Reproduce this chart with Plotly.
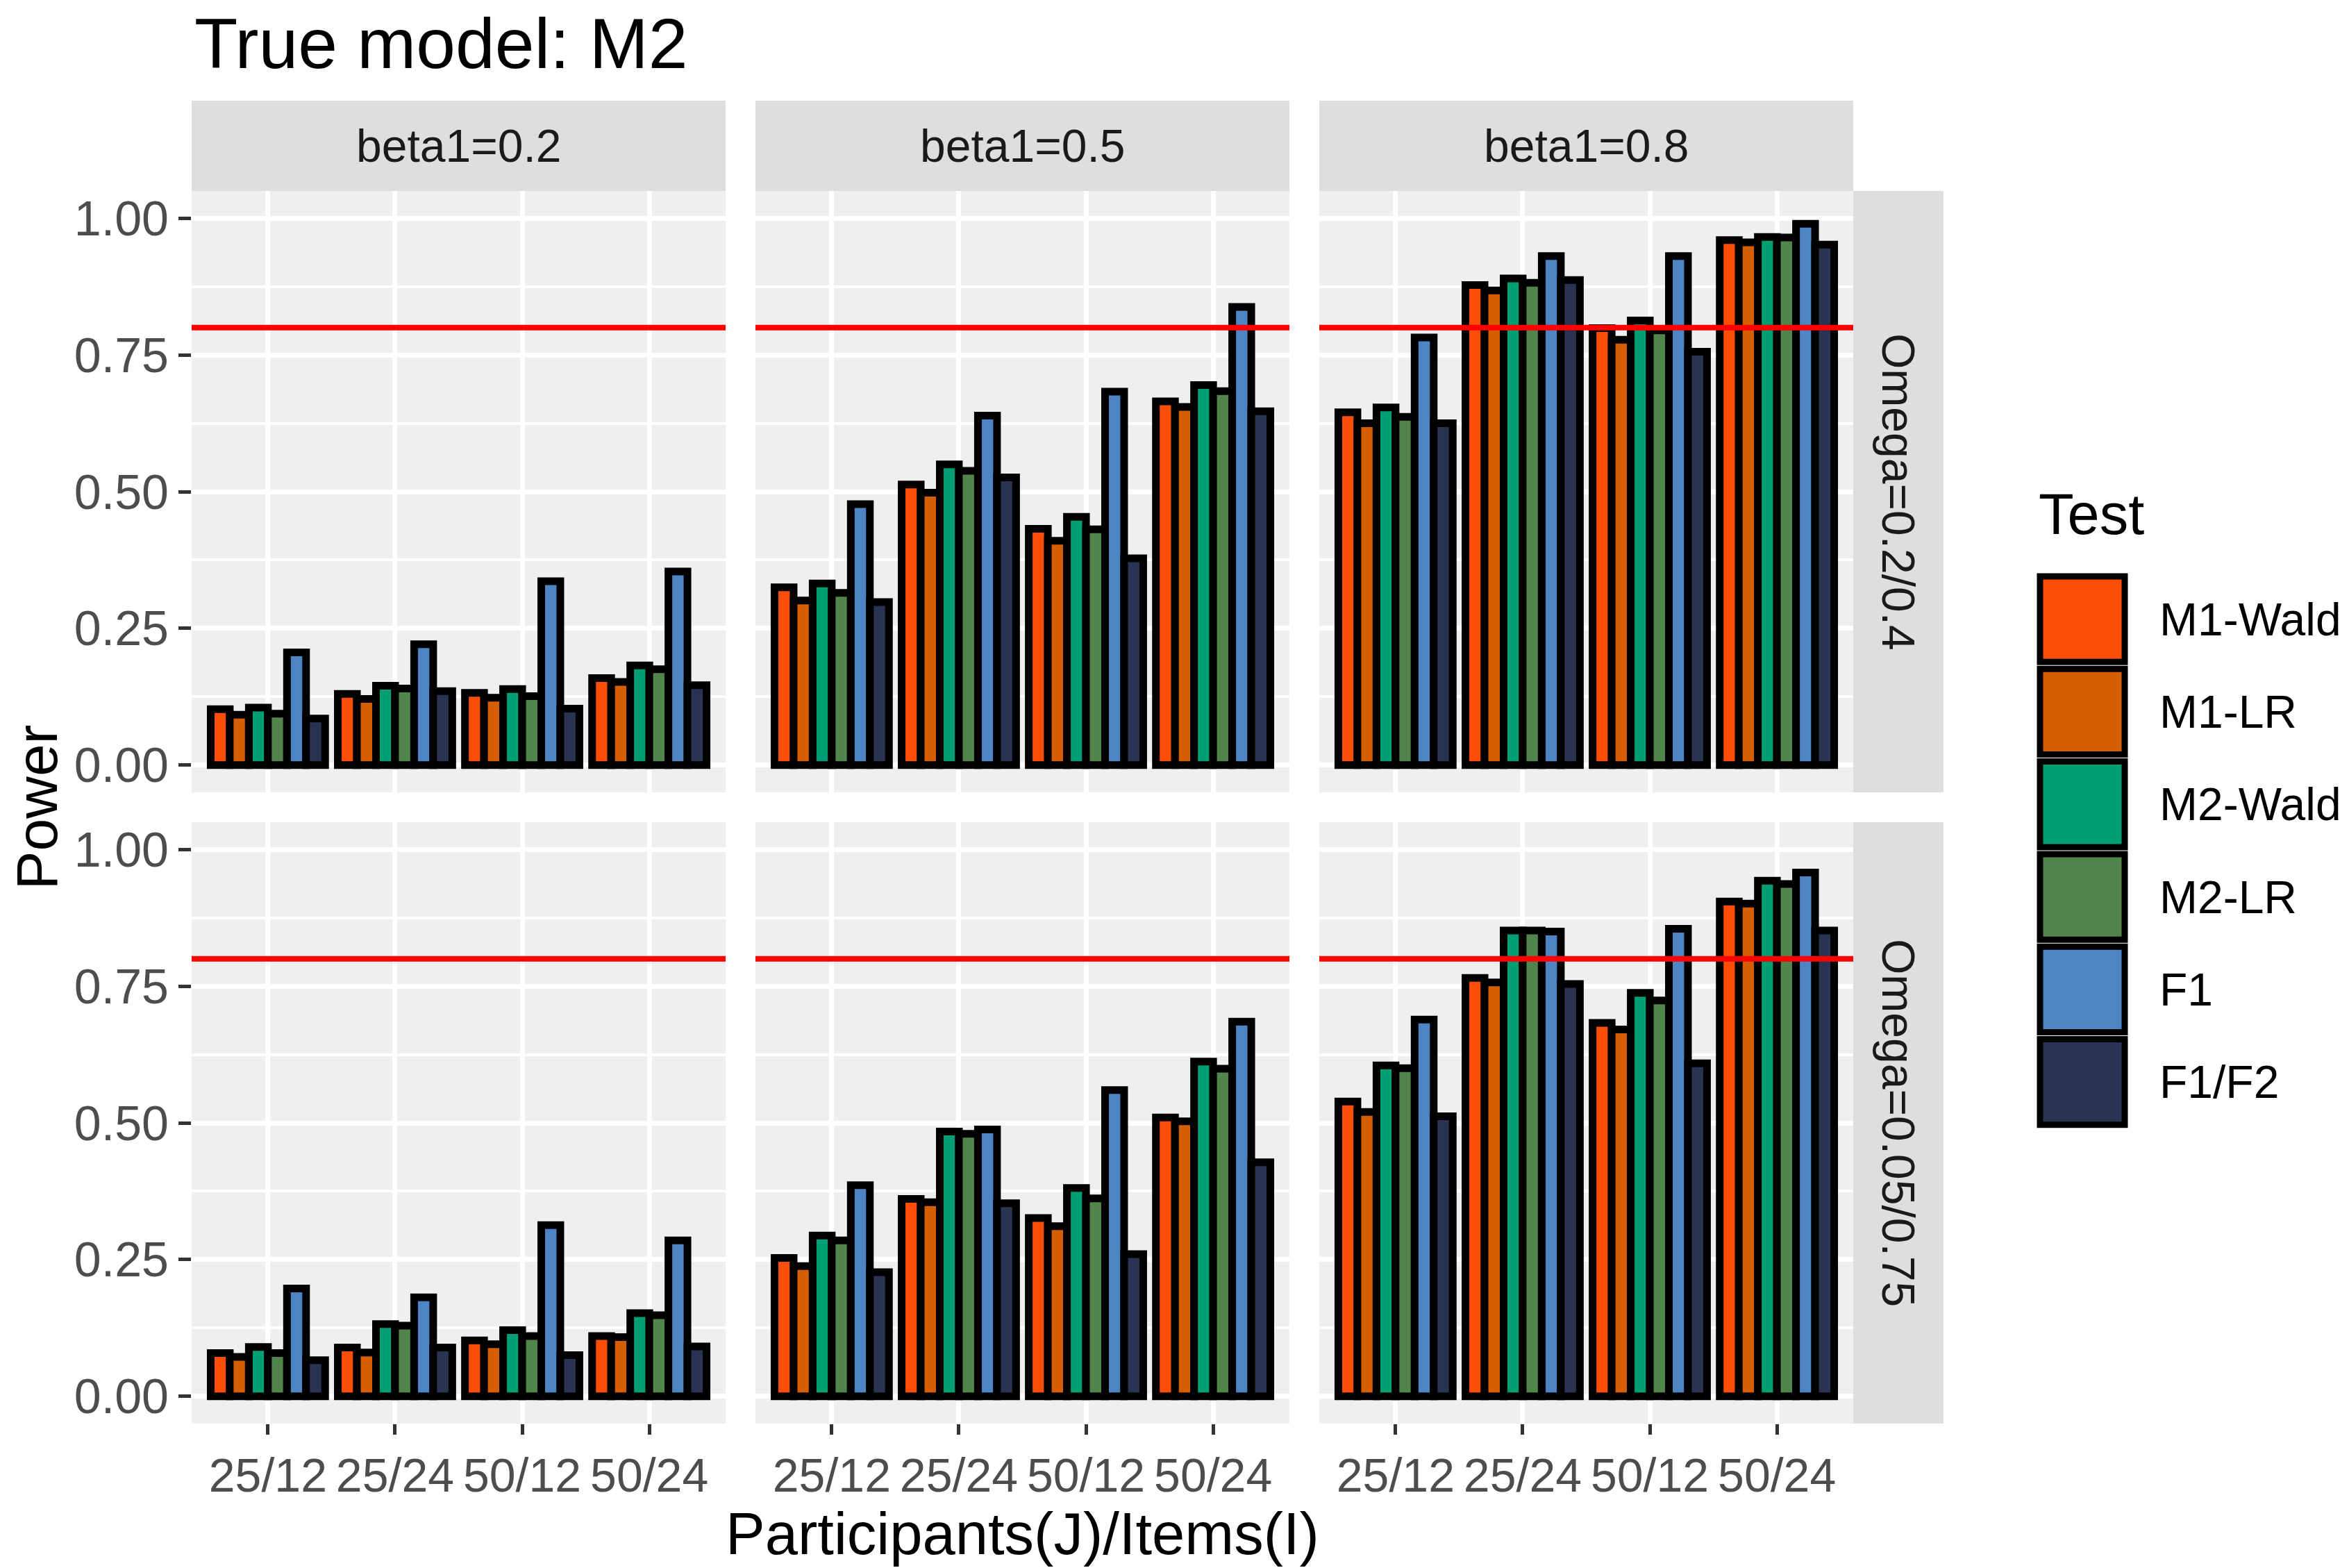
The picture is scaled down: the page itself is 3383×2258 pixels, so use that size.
import plotly.graph_objects as go
from plotly.subplots import make_subplots

W, H = 3383, 2258

designs = ["25/12", "25/24", "50/12", "50/24"]
tests = ["M1-Wald", "M1-LR", "M2-Wald", "M2-LR", "F1", "F1/F2"]
test_colors = ["#FC4E07", "#D55E00", "#009E73", "#52854C", "#4E84C4", "#293352"]
beta_labels = ["beta1=0.2", "beta1=0.5", "beta1=0.8"]
omega_labels = ["Omega=0.2/0.4", "Omega=0.05/0.75"]
power_target = 0.8

# power, one row per test (same order as tests), one value per design
omega1_beta02 = [
    [0.102, 0.130, 0.132, 0.159],
    [0.092, 0.121, 0.123, 0.152],
    [0.105, 0.145, 0.139, 0.182],
    [0.094, 0.140, 0.126, 0.175],
    [0.206, 0.221, 0.336, 0.354],
    [0.085, 0.135, 0.103, 0.146],
]
omega1_beta05 = [
    [0.325, 0.513, 0.432, 0.665],
    [0.301, 0.498, 0.410, 0.655],
    [0.332, 0.550, 0.454, 0.695],
    [0.315, 0.538, 0.431, 0.684],
    [0.477, 0.639, 0.683, 0.838],
    [0.298, 0.526, 0.378, 0.647],
]
omega1_beta08 = [
    [0.645, 0.878, 0.799, 0.960],
    [0.625, 0.868, 0.778, 0.956],
    [0.654, 0.890, 0.813, 0.966],
    [0.637, 0.882, 0.795, 0.965],
    [0.782, 0.931, 0.931, 0.990],
    [0.625, 0.887, 0.756, 0.952],
]
omega2_beta02 = [
    [0.079, 0.089, 0.102, 0.110],
    [0.072, 0.080, 0.095, 0.108],
    [0.090, 0.132, 0.121, 0.152],
    [0.079, 0.129, 0.110, 0.148],
    [0.197, 0.181, 0.313, 0.285],
    [0.066, 0.089, 0.075, 0.091],
]
omega2_beta05 = [
    [0.253, 0.361, 0.326, 0.510],
    [0.238, 0.355, 0.311, 0.503],
    [0.294, 0.484, 0.381, 0.612],
    [0.285, 0.480, 0.362, 0.599],
    [0.386, 0.488, 0.560, 0.685],
    [0.227, 0.353, 0.260, 0.428],
]
omega2_beta08 = [
    [0.539, 0.765, 0.683, 0.905],
    [0.520, 0.757, 0.671, 0.901],
    [0.605, 0.852, 0.738, 0.943],
    [0.600, 0.852, 0.724, 0.937],
    [0.689, 0.850, 0.855, 0.958],
    [0.512, 0.754, 0.609, 0.852],
]

panels = [
    [omega1_beta02, omega1_beta05, omega1_beta08],
    [omega2_beta02, omega2_beta05, omega2_beta08],
]

FONT = "Liberation Sans"


def fx(px):
    return px / W


def fy(px):
    return 1 - px / H


# panel geometry in pixels
col_left = [276, 1088, 1900]
col_w = 769
row_top = [275, 1184]
row_h = 866
strip = 130

fig = make_subplots(rows=2, cols=3)

for r in range(2):
    for c in range(3):
        vals = panels[r][c]
        for t, name in enumerate(tests):
            fig.add_trace(
                go.Bar(
                    x=designs,
                    y=vals[t],
                    name=name,
                    marker=dict(color=test_colors[t], line=dict(color="black", width=11)),
                    showlegend=False,
                ),
                row=r + 1,
                col=c + 1,
            )

shapes = []
annotations = []

for r in range(2):
    for c in range(3):
        n = r * 3 + c + 1
        sfx = "" if n == 1 else str(n)
        fig.layout["xaxis" + sfx].update(
            domain=[fx(col_left[c]), fx(col_left[c] + col_w)],
            type="category",
            range=[-0.6, 3.6],
            showgrid=True,
            gridcolor="white",
            gridwidth=7,
            zeroline=False,
            showline=False,
            ticks="outside" if r == 1 else "",
            ticklen=15,
            tickwidth=5,
            tickcolor="#333333",
            showticklabels=(r == 1),
            tickfont=dict(family=FONT, size=68, color="#4D4D4D"),
        )
        fig.layout["yaxis" + sfx].update(
            domain=[fy(row_top[r] + row_h), fy(row_top[r])],
            range=[-0.05, 1.05],
            tick0=0,
            dtick=0.25,
            tickformat=".2f",
            showgrid=True,
            gridcolor="white",
            gridwidth=7,
            minor=dict(tick0=0, dtick=0.125, showgrid=True, gridcolor="white", gridwidth=3.5, ticks=""),
            zeroline=False,
            showline=False,
            ticks="outside" if c == 0 else "",
            ticklen=18,
            tickwidth=5,
            tickcolor="#333333",
            showticklabels=(c == 0),
            tickfont=dict(family=FONT, size=70, color="#4D4D4D"),
        )
        # 80% power reference line
        shapes.append(dict(
            type="line", xref=f"x{sfx} domain", yref=f"y{sfx}",
            x0=0, x1=1, y0=power_target, y1=power_target,
            line=dict(color="#FF0000", width=8),
        ))

# top strips
for c in range(3):
    shapes.append(dict(
        type="rect", xref="paper", yref="paper",
        x0=fx(col_left[c]), x1=fx(col_left[c] + col_w),
        y0=fy(row_top[0]), y1=fy(row_top[0] - strip),
        fillcolor="#DEDEDE", line=dict(width=0),
    ))
    annotations.append(dict(
        xref="paper", yref="paper",
        x=fx(col_left[c] + col_w / 2), y=fy(row_top[0] - strip / 2),
        xanchor="center", yanchor="middle",
        text=beta_labels[c], showarrow=False,
        font=dict(family=FONT, size=66, color="#1A1A1A"),
    ))

# right strips
strip_x0 = col_left[2] + col_w
for r in range(2):
    shapes.append(dict(
        type="rect", xref="paper", yref="paper",
        x0=fx(strip_x0), x1=fx(strip_x0 + strip),
        y0=fy(row_top[r] + row_h), y1=fy(row_top[r]),
        fillcolor="#DEDEDE", line=dict(width=0),
    ))
    annotations.append(dict(
        xref="paper", yref="paper",
        x=fx(strip_x0 + strip / 2), y=fy(row_top[r] + row_h / 2),
        xanchor="center", yanchor="middle",
        text=omega_labels[r], showarrow=False, textangle=90,
        font=dict(family=FONT, size=66, color="#1A1A1A"),
    ))

# legend drawn by hand so the keys can be as large as in the original
key_x0, key_x1 = 2934, 3064
key_top, key_h = 825, 133.3
annotations.append(dict(
    xref="paper", yref="paper", x=fx(key_x0), y=fy(740),
    xanchor="left", yanchor="middle", text="Test", showarrow=False,
    font=dict(family=FONT, size=83, color="black"),
))
for i, name in enumerate(tests):
    y0 = key_top + i * key_h
    shapes.append(dict(
        type="rect", xref="paper", yref="paper",
        x0=fx(key_x0 + 4), x1=fx(key_x1 - 4),
        y0=fy(y0 + key_h - 5), y1=fy(y0 + 5),
        fillcolor=test_colors[i], line=dict(color="black", width=9),
    ))
    annotations.append(dict(
        xref="paper", yref="paper", x=fx(3108), y=fy(y0 + key_h / 2),
        xanchor="left", yanchor="middle", text=name, showarrow=False,
        font=dict(family=FONT, size=66, color="black"),
    ))

# axis titles
annotations.append(dict(
    xref="paper", yref="paper", x=fx(52), y=fy(row_top[0] + (row_top[1] + row_h - row_top[0]) / 2),
    xanchor="center", yanchor="middle",
    text="Power", textangle=-90, showarrow=False,
    font=dict(family=FONT, size=84, color="black"),
))
annotations.append(dict(
    xref="paper", yref="paper", x=fx((col_left[0] + col_left[2] + col_w) / 2), y=fy(2208),
    xanchor="center", yanchor="middle",
    text="Participants(J)/Items(I)", showarrow=False,
    font=dict(family=FONT, size=85, color="black"),
))

fig.update_layout(
    width=W,
    height=H,
    margin=dict(l=0, r=0, t=0, b=0),
    paper_bgcolor="white",
    plot_bgcolor="#EFEFEF",
    barmode="group",
    bargap=0.1,
    bargroupgap=0,
    title=dict(
        text="True model: M2", x=fx(280), xanchor="left", y=fy(62), yanchor="middle",
        font=dict(family=FONT, size=102, color="black"),
    ),
    shapes=shapes,
    annotations=annotations,
)

fig.write_html(
    "out.html",
    config={"displayModeBar": False},
    post_script="document.body.style.margin='0';document.body.style.overflow='hidden';",
)
